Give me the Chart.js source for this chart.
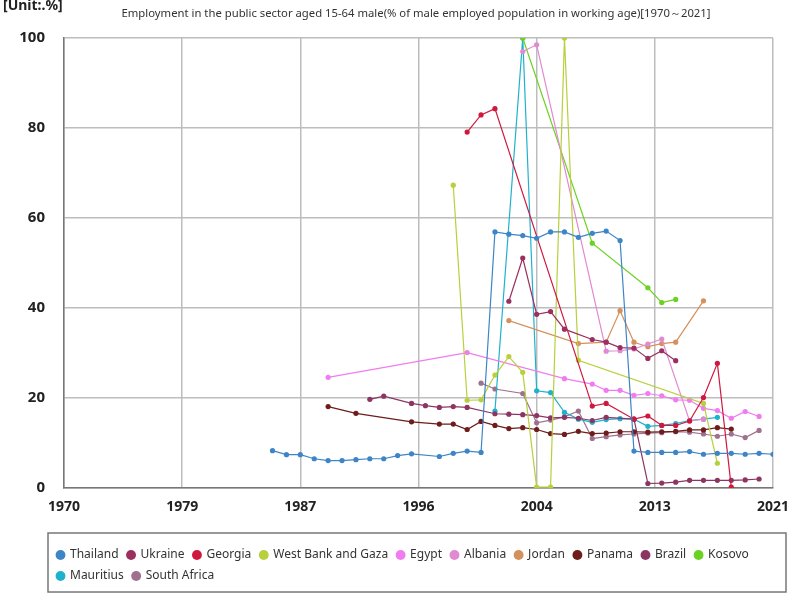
<!DOCTYPE html>
<html>
<head>
<meta charset="utf-8">
<script src="https://cdn.jsdelivr.net/npm/chart.js@4"></script>
<style>
    html, body { margin: 0; padding: 0; background: #fff; }
    #wrap { width: 800px; height: 600px; }
</style>
</head>
<body>
<div id="wrap"><canvas id="chart" width="800" height="600"></canvas></div>
<script>
// [year, value] pairs
const thailand = [[1985, 8.3], [1986, 7.4], [1987, 7.4], [1988, 6.5], [1989, 6.1], [1990, 6.1], [1991, 6.3], [1992, 6.5], [1993, 6.5], [1994, 7.2], [1995, 7.6], [1997, 7.0], [1998, 7.7], [1999, 8.2], [2000, 7.9], [2001, 56.9], [2002, 56.4], [2003, 56.1], [2004, 55.5], [2005, 56.9], [2006, 56.9], [2007, 55.7], [2008, 56.6], [2009, 57.1], [2010, 55.0], [2011, 8.2], [2012, 7.9], [2013, 7.9], [2014, 7.9], [2015, 8.1], [2016, 7.5], [2017, 7.7], [2018, 7.7], [2019, 7.5], [2020, 7.7], [2021, 7.5]];
const ukraine = [[2002, 41.5], [2003, 51.1], [2004, 38.6], [2005, 39.2], [2006, 35.3], [2008, 33.0], [2009, 32.4], [2010, 31.2], [2011, 31.1], [2012, 28.8], [2013, 30.5], [2014, 28.3]];
const georgia = [[1999, 79.1], [2000, 82.9], [2001, 84.3], [2008, 18.2], [2009, 18.8], [2011, 15.3], [2012, 16.0], [2013, 13.9], [2014, 13.9], [2015, 14.9], [2016, 20.1], [2017, 27.7], [2018, 0.2]];
const westBank = [[1998, 67.3], [1999, 19.5], [2000, 19.6], [2001, 25.1], [2002, 29.2], [2003, 25.7], [2004, 0.2], [2005, 0.2], [2006, 100], [2007, 28.4], [2016, 18.8], [2017, 5.5]];
const egypt = [[1989, 24.6], [1999, 30.1], [2006, 24.3], [2008, 23.1], [2009, 21.7], [2010, 21.7], [2011, 20.6], [2012, 21.0], [2013, 20.5], [2014, 19.6], [2015, 19.5], [2016, 17.7], [2017, 17.2], [2018, 15.5], [2019, 17.0], [2020, 15.9]];
const albania = [[2003, 97.0], [2004, 98.5], [2009, 30.4], [2010, 30.5], [2011, 30.9], [2012, 32.0], [2013, 33.1], [2015, 14.9], [2016, 15.3]];
const jordan = [[2002, 37.2], [2007, 32.1], [2009, 32.4], [2010, 39.4], [2011, 32.4], [2012, 31.4], [2013, 32.1], [2014, 32.4], [2016, 41.6]];
const panama = [[1989, 18.1], [1991, 16.6], [1995, 14.7], [1997, 14.2], [1998, 14.2], [1999, 13.0], [2000, 14.8], [2001, 13.9], [2002, 13.2], [2003, 13.4], [2004, 13.0], [2005, 12.1], [2006, 11.9], [2007, 12.6], [2008, 12.1], [2009, 12.2], [2010, 12.5], [2011, 12.5], [2012, 12.4], [2013, 12.5], [2014, 12.6], [2015, 12.9], [2016, 12.9], [2017, 13.4], [2018, 13.1]];
const brazil = [[1992, 19.7], [1993, 20.4], [1995, 18.8], [1996, 18.3], [1997, 17.9], [1998, 18.1], [1999, 17.9], [2001, 16.5], [2002, 16.4], [2003, 16.3], [2004, 16.1], [2005, 15.6], [2006, 15.7], [2007, 15.5], [2008, 15.0], [2009, 15.7], [2011, 15.3], [2012, 1.0], [2013, 1.1], [2014, 1.3], [2015, 1.7], [2016, 1.7], [2017, 1.7], [2018, 1.7], [2019, 1.8], [2020, 2.0]];
const kosovo = [[2003, 100], [2008, 54.4], [2012, 44.5], [2013, 41.2], [2014, 41.9]];
const mauritius = [[2001, 17.1], [2003, 100], [2004, 21.6], [2005, 21.2], [2006, 16.8], [2007, 15.3], [2008, 14.6], [2009, 15.2], [2010, 15.4], [2011, 15.3], [2012, 13.7], [2013, 13.9], [2014, 14.3], [2015, 15.0], [2016, 15.3], [2017, 15.7]];
const southAfrica = [[2000, 23.3], [2001, 22.0], [2003, 21.0], [2004, 14.5], [2005, 15.1], [2006, 15.8], [2007, 17.1], [2008, 11.0], [2009, 11.4], [2010, 11.8], [2011, 12.0], [2012, 12.2], [2013, 12.3], [2014, 12.5], [2015, 12.4], [2016, 12.0], [2017, 11.5], [2018, 12.0], [2019, 11.2], [2020, 12.8]];

const countries = ["Thailand", "Ukraine", "Georgia", "West Bank and Gaza", "Egypt", "Albania", "Jordan", "Panama", "Brazil", "Kosovo", "Mauritius", "South Africa"];
const series = [thailand, ukraine, georgia, westBank, egypt, albania, jordan, panama, brazil, kosovo, mauritius, southAfrica];
const colors = ["#3d85c6", "#9b2f5f", "#d0183f", "#b8d03c", "#f07cf0", "#e08ad0", "#d4915e", "#6e1c1c", "#8c3563", "#6ad321", "#1fb2cc", "#a0708f"];

const xTicks = [1970, 1978.5, 1987, 1995.5, 2004, 2012.5, 2021];

const datasets = series.map((rows, i) => ({
    label: countries[i],
    data: rows.map(r => ({ x: r[0], y: r[1] })),
    borderColor: colors[i],
    backgroundColor: colors[i],
    borderWidth: 1.2,
    pointRadius: 2.6,
    pointHoverRadius: 3,
    pointBorderWidth: 0,
    tension: 0
}));

// texts, y labels (the narrow axis box would clip them) and legend frame
const decor = {
    id: "decor",
    afterDraw(chart) {
        const ctx = chart.ctx;
        ctx.save();
        ctx.fillStyle = "#222";
        ctx.font = "bold 14px 'Noto Sans'";
        ctx.textBaseline = "top";
        ctx.textAlign = "left";
        ctx.fillText("[Unit:.%]", 3, -1);
        ctx.fillStyle = "#333";
        ctx.font = "11.3px 'Noto Sans'";
        ctx.textAlign = "center";
        ctx.fillText("Employment in the public sector aged 15-64 male(% of male employed population in working age)[1970\uFF5E2021]", 416, 8);

        const y = chart.scales.y;
        ctx.fillStyle = "#222";
        ctx.font = "bold 15px 'Noto Sans'";
        ctx.textAlign = "right";
        ctx.textBaseline = "middle";
        y.ticks.forEach(t => ctx.fillText(String(t.value), 45, y.getPixelForValue(t.value)));

        ctx.strokeStyle = "#777";
        ctx.lineWidth = 1.5;
        ctx.strokeRect(48, 533, 738, 59);
        ctx.restore();
    }
};

new Chart(document.getElementById("chart"), {
    type: "line",
    data: { datasets },
    options: {
        responsive: false,
        animation: false,
        layout: { padding: { left: 48, right: 25, top: 38, bottom: 8 } },
        plugins: {
            legend: {
                position: "bottom",
                align: "start",
                labels: {
                    usePointStyle: true,
                    pointStyle: "circle",
                    boxWidth: 7,
                    boxHeight: 7,
                    padding: 9,
                    color: "#333",
                    font: { size: 12, family: "'Noto Sans'" }
                }
            },
            tooltip: { enabled: false }
        },
        scales: {
            x: {
                type: "linear",
                min: 1970,
                max: 2021,
                afterBuildTicks: scale => { scale.ticks = xTicks.map(v => ({ value: v })); },
                afterFit: scale => { scale.height = 52; },
                ticks: {
                    callback: v => Math.round(v),
                    color: "#222",
                    font: { size: 14, weight: "bold", family: "'Noto Sans'" },
                    padding: 11,
                    maxRotation: 0
                },
                grid: { color: "#bdbdbd", lineWidth: 1.5, drawTicks: false },
                border: { color: "#777", width: 1.5 }
            },
            y: {
                min: 0,
                max: 100,
                afterFit: scale => { scale.width = 16; },
                ticks: { stepSize: 20, display: false },
                grid: { color: "#bdbdbd", lineWidth: 1.5, drawTicks: false },
                border: { color: "#777", width: 1.5 }
            }
        }
    },
    plugins: [decor]
});
</script>
</body>
</html>
